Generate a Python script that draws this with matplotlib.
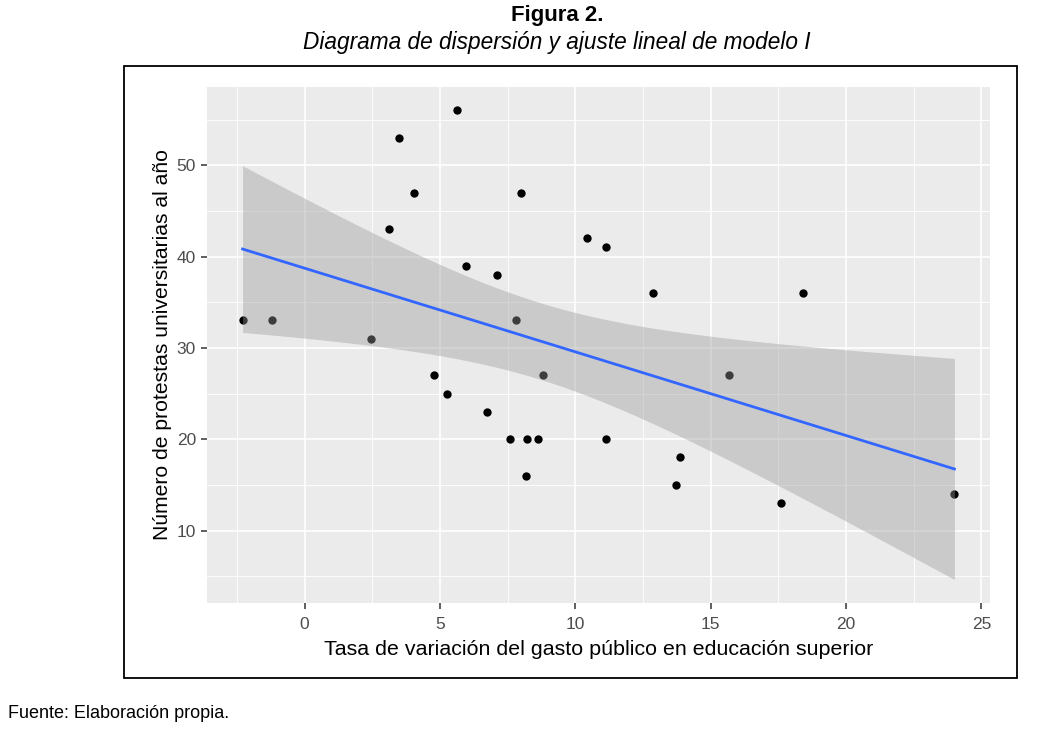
import numpy as np
import matplotlib
matplotlib.use('Agg')
import matplotlib.pyplot as plt
from matplotlib.patches import Rectangle

plt.rcParams['font.family'] = ['Liberation Sans', 'DejaVu Sans']

# Values
gasto = [-2.29, -1.20, 2.46, 3.11, 3.48, 4.04, 5.63, 5.97, 7.10, 8.01,
         7.80, 10.43, 11.13, 4.79, 5.27, 6.72, 7.59, 8.23, 8.61, 8.18,
         8.82, 11.13, 12.86, 18.40, 15.66, 13.88, 13.72, 17.59, 24.00]
protestas = [33, 33, 31, 43, 53, 47, 56, 39, 38, 47,
             33, 42, 41, 27, 25, 23, 20, 20, 20, 16,
             27, 20, 36, 36, 27, 18, 15, 13, 14]
x_ticks = [0, 5, 10, 15, 20, 25]
y_ticks = [10, 20, 30, 40, 50]

x = np.array(gasto)
y = np.array(protestas)

# linear fit + 95% confidence band (like geom_smooth(method = "lm"))
n = len(x)
b1, b0 = np.polyfit(x, y, 1)
resid = y - (b0 + b1 * x)
s = np.sqrt(np.sum(resid ** 2) / (n - 2))
t_crit = 2.0518  # t(0.975, df = 27)
xs = np.linspace(x.min(), x.max(), 80)
ys = b0 + b1 * xs
se = s * np.sqrt(1 / n + (xs - x.mean()) ** 2 / np.sum((x - x.mean()) ** 2))
lo, hi = ys - t_crit * se, ys + t_crit * se

fig = plt.figure(figsize=(10.4, 7.32), dpi=100)
ax = fig.add_axes([207 / 1040, 1 - 603 / 732, (990 - 207) / 1040, (603 - 87) / 732])

ax.set_facecolor('#EBEBEB')
for sp in ax.spines.values():
    sp.set_visible(False)

ax.scatter(x, y, s=36, color='black', zorder=3, linewidths=0)
ax.fill_between(xs, lo, hi, color='#999999', alpha=0.4, linewidth=0, zorder=4)
ax.plot(xs, ys, color='#3366FF', lw=2, zorder=5)

# ggplot style expansion of limits
xmin, xmax = x.min(), x.max()
ymin, ymax = min(y.min(), lo.min()), max(y.max(), hi.max())
ax.set_xlim(xmin - 0.05 * (xmax - xmin), xmax + 0.05 * (xmax - xmin))
ax.set_ylim(ymin - 0.05 * (ymax - ymin), ymax + 0.05 * (ymax - ymin))

ax.set_xticks(x_ticks)
ax.set_yticks(y_ticks)
ax.set_xticks(np.arange(-2.5, 25, 5), minor=True)
ax.set_yticks(np.arange(5, 60, 10), minor=True)
ax.grid(which='major', color='white', lw=1.2, zorder=1)
ax.grid(which='minor', color='white', lw=0.6, zorder=1)
ax.set_axisbelow(True)
ax.tick_params(which='major', length=4, width=1.1, color='#333333',
               labelcolor='#4D4D4D', labelsize=12.5, pad=4)
ax.tick_params(axis='x', which='major', pad=6)
ax.tick_params(which='minor', length=0)

ax.set_xlabel('Tasa de variación del gasto público en educación superior',
              fontsize=15.4, color='black', labelpad=6)
ax.set_ylabel('Número de protestas universitarias al año',
              fontsize=15.2, color='black', labelpad=3)

fig.text(557 / 1040, 1 - 15 / 732, 'Figura 2.', ha='center', va='center',
         fontsize=16, fontweight='bold')
fig.text(557 / 1040, 1 - 43 / 732, 'Diagrama de dispersión y ajuste lineal de modelo I',
         ha='center', va='center', fontsize=16.3, style='italic')
fig.text(8 / 1040, 1 - 714 / 732, 'Fuente: Elaboración propia.', ha='left',
         va='center', fontsize=13)

fig.patches.append(Rectangle((124 / 1040, 1 - 678 / 732), (1017 - 124) / 1040,
                             (678 - 66) / 732, transform=fig.transFigure,
                             fill=False, edgecolor='black', lw=1.3))

fig.savefig('out.png', dpi=100)
